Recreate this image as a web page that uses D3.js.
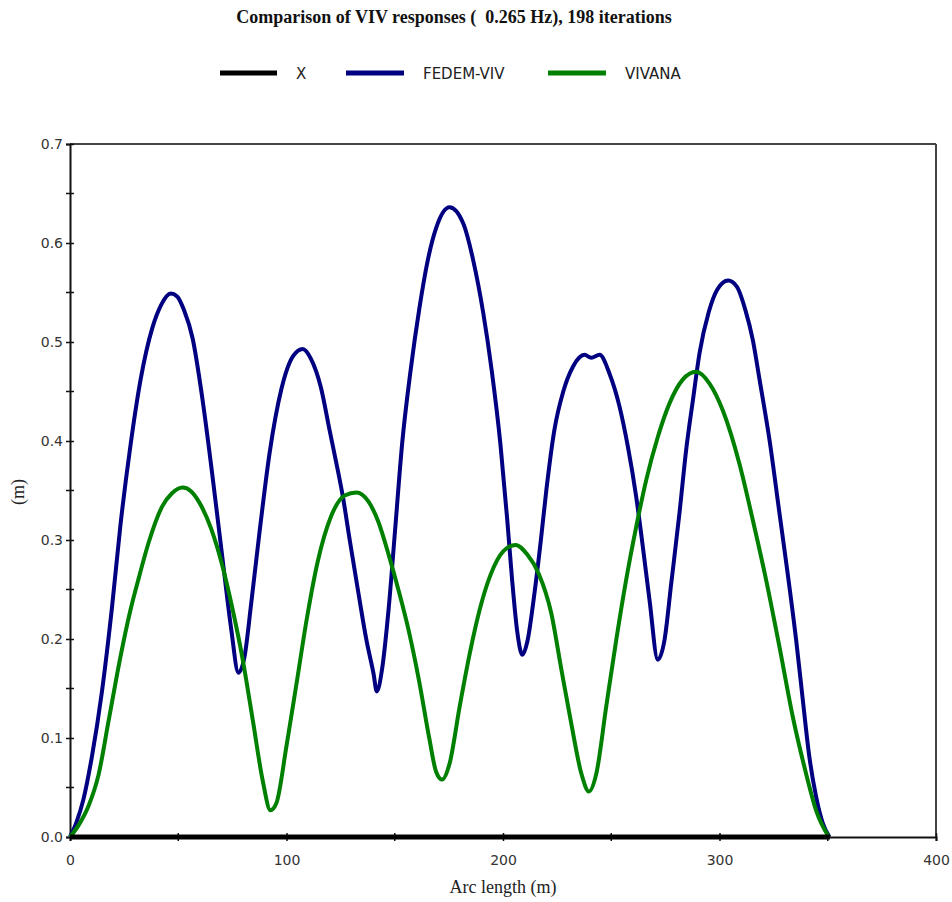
<!DOCTYPE html>
<html>
<head>
<meta charset="utf-8">
<script src="https://cdn.jsdelivr.net/npm/d3@7"></script>
<style>
  html, body { margin: 0; padding: 0; background: #fff; }
  svg { display: block; }
</style>
</head>
<body>
<div id="chart"></div>
<script>
// ---------- Data ----------
const titleText = "Comparison of VIV responses (  0.265 Hz), 198 iterations";
const seriesNames = ["X", "FEDEM-VIV", "VIVANA"];
const seriesColors = ["#000000", "#000080", "#008000"];

const xSeriesX = [0, 351];
const xSeriesY = [0, 0];

const fedemX = [0,3,6.2,10.1,14.7,19.4,23.3,27.9,32.6,38,42,46.5,49.5,52.7,56.6,61.2,65.9,70.5,74.4,77.8,80.6,83.7,87.6,92.2,97.7,103.1,107.5,111.3,115.9,119.8,123,126.1,129.2,133.1,137,140.2,141.7,144.1,147.2,150.3,153.4,157.3,161.3,165.2,169.1,175.3,181.6,186.3,190.9,194.8,198.8,201.9,204.2,206.6,208.9,211.3,214.4,217.5,220,223.8,227.7,232.3,237.7,240.8,244.6,249.2,253.8,257.7,261.5,264.6,267.7,271.5,274.6,277.7,281.5,284.6,287.7,290.8,295,299,304,308,312,315.4,318.5,323.1,327.7,331.5,335.4,338.5,341.5,344.6,347.7,350.8];
const fedemY = [0,0.015,0.038,0.081,0.146,0.232,0.315,0.395,0.462,0.514,0.537,0.549,0.546,0.532,0.504,0.442,0.363,0.280,0.211,0.166,0.182,0.236,0.309,0.388,0.453,0.486,0.493,0.483,0.454,0.412,0.378,0.343,0.300,0.248,0.198,0.165,0.147,0.169,0.231,0.314,0.397,0.471,0.533,0.582,0.615,0.636,0.620,0.582,0.529,0.471,0.397,0.322,0.260,0.207,0.184,0.198,0.244,0.300,0.350,0.412,0.449,0.475,0.487,0.484,0.487,0.468,0.435,0.394,0.344,0.293,0.239,0.179,0.199,0.256,0.327,0.391,0.441,0.489,0.530,0.553,0.562,0.556,0.532,0.502,0.462,0.401,0.327,0.266,0.199,0.138,0.081,0.041,0.014,0];

const vivanaX = [0,4,8.5,13.2,17.8,23.3,27.9,31.8,36.4,42.6,47,52,56,59.7,65.1,70.5,75.2,79.8,84.5,89.1,92.6,95.3,100,104.7,109.5,114.4,120.6,126.9,132.3,137.8,142.5,147.2,151.9,156.6,161.3,166,169.1,171.9,175.3,180,184.7,189.4,194.1,200.3,205.8,211.3,216.5,222.3,226.9,231.5,236.2,239.7,243.1,247.7,252.3,256.9,261.5,266.2,271.5,276.9,283,289.2,295.4,301.5,309.2,315.4,321.5,327.7,333.8,340,344.6,350.5];
const vivanaY = [0,0.012,0.031,0.063,0.117,0.182,0.229,0.262,0.298,0.334,0.347,0.353,0.349,0.338,0.312,0.273,0.229,0.179,0.117,0.056,0.027,0.034,0.092,0.156,0.222,0.278,0.324,0.345,0.348,0.339,0.318,0.285,0.248,0.207,0.157,0.099,0.066,0.058,0.074,0.132,0.186,0.231,0.264,0.289,0.295,0.285,0.266,0.226,0.170,0.115,0.064,0.046,0.064,0.132,0.199,0.260,0.313,0.361,0.404,0.438,0.462,0.470,0.458,0.431,0.377,0.320,0.260,0.192,0.122,0.064,0.027,0];

const yMajorTicks = [0, 0.1, 0.2, 0.3, 0.4, 0.5, 0.6, 0.7];
const yMinorTicks = [0.05, 0.15, 0.25, 0.35, 0.45, 0.55, 0.65];
const xMajorTicks = [0, 100, 200, 300, 400];
const xMinorTicks = [50, 150, 250, 350];
const xLabel = "Arc length (m)";
const yLabel = "(m)";

// ---------- Layout ----------
const W = 952, H = 902;
const m = { left: 70, right: 16, top: 144, bottom: 65 };
const svg = d3.select("#chart").append("svg").attr("width", W).attr("height", H);

const x = d3.scaleLinear().domain([0, 400]).range([m.left, W - m.right]);
const y = d3.scaleLinear().domain([0, 0.7]).range([H - m.bottom, m.top]);

const serif = "'Liberation Serif', 'Times New Roman', serif";
const sans = "'DejaVu Sans', sans-serif";

// Title
svg.append("text")
  .attr("x", 454).attr("y", 23)
  .attr("text-anchor", "middle")
  .style("font-family", serif)
  .style("font-weight", "bold").style("font-size", "18px")
  .style("white-space", "pre").attr("xml:space", "preserve")
  .attr("fill", "#111")
  .text(titleText);

// Legend
const legendItems = [
  { lx1: 220, lx2: 277, tx: 296 },
  { lx1: 346, lx2: 404, tx: 423 },
  { lx1: 548, lx2: 606, tx: 625 }
];
const lg = svg.append("g");
seriesNames.forEach((n, i) => {
  const it = legendItems[i];
  lg.append("line").attr("x1", it.lx1).attr("x2", it.lx2).attr("y1", 73).attr("y2", 73)
    .attr("stroke", seriesColors[i]).attr("stroke-width", 5);
  lg.append("text").attr("x", it.tx).attr("y", 79)
    .style("font-family", sans).style("font-size", "15px")
    .attr("fill", "#222").text(n);
});

// Frame (top & right)
svg.append("line").attr("x1", x(0)).attr("x2", x(400)).attr("y1", y(0.7)).attr("y2", y(0.7))
  .attr("stroke", "#444").attr("stroke-width", 2);
svg.append("line").attr("x1", x(400)).attr("x2", x(400)).attr("y1", y(0.7)).attr("y2", y(0))
  .attr("stroke", "#444").attr("stroke-width", 2);

// Axes
const yAxis = d3.axisLeft(y).tickValues(yMajorTicks).tickFormat(d3.format(".1f")).tickSize(4).tickPadding(4);
const gy = svg.append("g").attr("transform", `translate(${x(0)},0)`).call(yAxis);
const xAxis = d3.axisBottom(x).tickValues(xMajorTicks).tickFormat(d3.format("d")).tickSize(4).tickPadding(14);
const gx = svg.append("g").attr("transform", `translate(0,${y(0)})`).call(xAxis);

[gx, gy].forEach(g => {
  g.select(".domain").attr("stroke", "#111").attr("stroke-width", 2);
  g.selectAll(".tick line").attr("stroke", "#111").attr("stroke-width", 1.5);
  g.selectAll(".tick text").attr("fill", "#333")
    .style("font-family", sans).style("font-size", "14px");
});
gy.selectAll(".tick line").attr("x1", 4).attr("x2", -4);
gx.selectAll(".tick line").attr("y1", -4).attr("y2", 4);
gy.selectAll(".tick text").attr("x", -7);

// minor ticks
svg.append("g").selectAll("line").data(yMinorTicks).join("line")
  .attr("x1", x(0) - 4).attr("x2", x(0) + 4).attr("y1", d => y(d)).attr("y2", d => y(d))
  .attr("stroke", "#111").attr("stroke-width", 1.5);
svg.append("g").selectAll("line").data(xMinorTicks).join("line")
  .attr("y1", y(0) - 4).attr("y2", y(0) + 4).attr("x1", d => x(d)).attr("x2", d => x(d))
  .attr("stroke", "#111").attr("stroke-width", 1.5);

// Axis titles
svg.append("text").attr("x", 503).attr("y", 893).attr("text-anchor", "middle")
  .style("font-family", serif).style("font-size", "18px")
  .attr("fill", "#222").text(xLabel);
svg.append("text").attr("transform", "translate(24,492) rotate(-90)").attr("text-anchor", "middle")
  .style("font-family", serif).style("font-size", "18px")
  .attr("fill", "#222").text(yLabel);

// Series
const line = d3.line().x(d => x(d[0])).y(d => y(d[1])).curve(d3.curveMonotoneX);
const plot = svg.append("g");
const series = [
  d3.zip(xSeriesX, xSeriesY),
  d3.zip(fedemX, fedemY),
  d3.zip(vivanaX, vivanaY)
];
[1, 2, 0].forEach(i => {
  plot.append("path").datum(series[i]).attr("d", line)
    .attr("fill", "none").attr("stroke", seriesColors[i])
    .attr("stroke-width", i === 0 ? 5 : 4).attr("stroke-linejoin", "round");
});
</script>
</body>
</html>
